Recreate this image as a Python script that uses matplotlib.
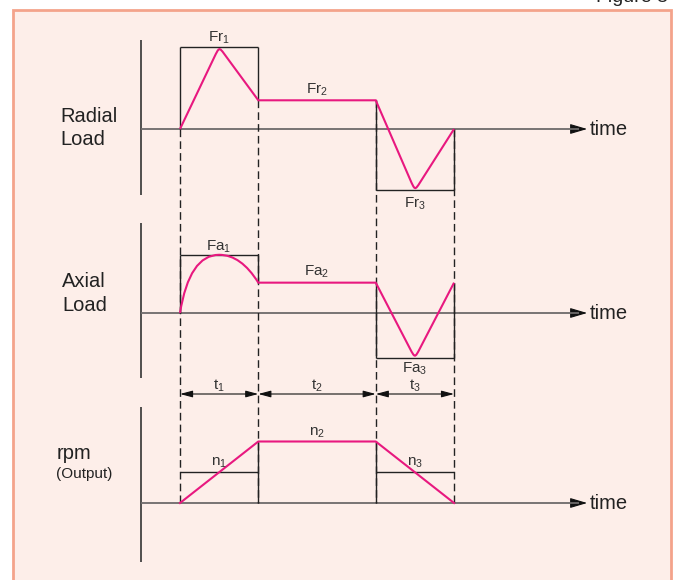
import matplotlib
matplotlib.use('Agg')
import matplotlib.pyplot as plt
import numpy as np
from matplotlib.path import Path
from matplotlib.patches import PathPatch, Rectangle, FancyArrowPatch

plt.rcParams['font.family'] = ['Liberation Sans', 'DejaVu Sans']
plt.rcParams['mathtext.fontset'] = 'custom'
plt.rcParams['mathtext.rm'] = 'Liberation Sans'
plt.rcParams['mathtext.it'] = 'Liberation Sans:italic'
plt.rcParams['mathtext.bf'] = 'Liberation Sans:bold'

# ---------------- data ----------------
durations = [1.0, 1.5, 1.0]                      # t1, t2, t3
period_labels = ['t$_1$', 't$_2$', 't$_3$']
radial_levels = [1.0, 0.35, -0.75]               # Fr1 (peak), Fr2, Fr3 (trough)
radial_labels = ['Fr$_1$', 'Fr$_2$', 'Fr$_3$']
axial_levels = [0.71, 0.37, -0.55]               # Fa1 (peak), Fa2, Fa3 (trough)
axial_end = 0.37
axial_labels = ['Fa$_1$', 'Fa$_2$', 'Fa$_3$']
rpm_levels = [0.375, 0.75, 0.375]                # n1 (mean), n2, n3 (mean)
rpm_labels = ['n$_1$', 'n$_2$', 'n$_3$']
row_names = [['Radial', 'Load'], ['Axial', 'Load'], ['rpm', '(Output)']]

# ---------------- layout ----------------
W, H = 676, 580
PX0, SX = 180.0, 78.3
PY0, SY = 129.0, 82.0
offsets = [0.0, -(313 - 129) / SY, -(503 - 129) / SY]
axis_spans = [(1.085, -0.805), (1.10, -0.79), (1.17, -0.72)]
AXIS_X = -0.5
TIME_END = 5.2
LBL = 11

MAG = '#e8187f'
DARK = '#222222'
GREY = '#6e6a6a'


def px(x, y):
    return (x - PX0) / SX, (PY0 - y) / SY


fig = plt.figure(figsize=(W / 100, H / 100), dpi=100)
fig.patch.set_facecolor('white')
ax = fig.add_axes([0, 0, 1, 1])
ax.set_axis_off()
ax.set_xlim(-PX0 / SX, (W - PX0) / SX)
ax.set_ylim((PY0 - H) / SY, PY0 / SY)

# frame
frame = Rectangle((12.5 / W, -0.1), (670.5 - 12.5) / W, 1.1 - 10.5 / H,
                  transform=fig.transFigure, facecolor='#fdeee9',
                  edgecolor='#f4a38b', lw=2.0, zorder=-1)
fig.patches.append(frame)
fig.text(668 / W, 1 - 1.5 / H, 'Figure 3', ha='right', va='baseline',
         fontsize=14, color='#222222')

bounds = np.concatenate([[0.0], np.cumsum(durations)])
mids = (bounds[:-1] + bounds[1:]) / 2


def rounded(pts, round_idx, f=0.13):
    verts, codes = [pts[0]], [Path.MOVETO]
    for i in range(1, len(pts)):
        if i in round_idx:
            V = np.array(pts[i], float)
            A = np.array(pts[i - 1], float)
            B = np.array(pts[i + 1], float)
            P0 = V + (A - V) * f
            P2 = V + (B - V) * f
            verts += [tuple(P0), tuple(V), tuple(V), tuple(P2)]
            codes += [Path.LINETO, Path.CURVE4, Path.CURVE4, Path.CURVE4]
        else:
            verts.append(pts[i])
            codes.append(Path.LINETO)
    return verts, codes


def shift(verts, off):
    return [(x, y + off) for x, y in verts]


def seg(x0, y0, x1, y1, **kw):
    ax.plot([x0, x1], [y0, y1], solid_capstyle='butt', **kw)


# axes lines and time arrows
for off, (top, bot) in zip(offsets, axis_spans):
    seg(AXIS_X, off + top, AXIS_X, off + bot, color='#333333', lw=1.2)
    seg(AXIS_X, off, TIME_END - 0.1, off, color=GREY, lw=1.3)
    ax.add_patch(FancyArrowPatch((TIME_END - 0.2, off), (TIME_END, off),
                                 arrowstyle='-|>,head_length=0.95,head_width=0.28',
                                 mutation_scale=11, color='#111111', lw=0.8,
                                 shrinkA=0, shrinkB=0))
    ax.text(TIME_END + 0.03, off - 6.5 / SY, 'time', ha='left', va='baseline',
            fontsize=14.5, color='#222222')

# dashed guides from radial series down to rpm baseline
Fr1, Fr2, Fr3 = radial_levels
radial_at_bounds = [0.0, Fr2, Fr2, 0.0]
for b, top in zip(bounds, radial_at_bounds):
    seg(b, top, b, offsets[2], color=DARK, lw=1.0, ls=(0, (5.5, 3)))

# ---- Radial panel ----
o = offsets[0]
seg(bounds[0], o, bounds[0], o + Fr1, color=DARK, lw=1.0)
seg(bounds[0], o + Fr1, bounds[1], o + Fr1, color=DARK, lw=1.0)
seg(bounds[1], o + Fr2, bounds[1], o + Fr1, color=DARK, lw=1.0)
seg(bounds[2], o + Fr2, bounds[2], o + Fr3, color=DARK, lw=1.0)
seg(bounds[2], o + Fr3, bounds[3], o + Fr3, color=DARK, lw=1.0)
seg(bounds[3], o, bounds[3], o + Fr3, color=DARK, lw=1.0)
pts = [(bounds[0], 0), (mids[0], Fr1), (bounds[1], Fr2), (bounds[2], Fr2),
       (mids[2], Fr3), (bounds[3], 0)]
v, c = rounded(pts, {1, 4})
ax.add_patch(PathPatch(Path(shift(v, o), c), fill=False, edgecolor=MAG, lw=1.5,
                       zorder=3))
ax.text(mids[0], o + Fr1 + 5.3 / SY, radial_labels[0], ha='center', va='baseline', fontsize=LBL, color='#333333')
ax.text(mids[1], o + Fr2 + 6.7 / SY, radial_labels[1], ha='center', va='baseline', fontsize=LBL, color='#333333')
ax.text(mids[2], o + Fr3 - 17.0 / SY, radial_labels[2], ha='center', va='baseline', fontsize=LBL, color='#333333')

# ---- Axial panel ----
o = offsets[1]
Fa1, Fa2, Fa3 = axial_levels
seg(bounds[0], o, bounds[0], o + Fa1, color=DARK, lw=1.0)
seg(bounds[0], o + Fa1, bounds[1], o + Fa1, color=DARK, lw=1.0)
seg(bounds[1], o + Fa2, bounds[1], o + Fa1, color=DARK, lw=1.0)
seg(bounds[2], o + Fa2, bounds[2], o + Fa3, color=DARK, lw=1.0)
seg(bounds[2], o + Fa3, bounds[3], o + Fa3, color=DARK, lw=1.0)
seg(bounds[3], o + axial_end, bounds[3], o + Fa3, color=DARK, lw=1.0)
d0 = durations[0]
verts = [(bounds[0], 0), (bounds[0] + 0.12 * d0, Fa1), (mids[0], Fa1),
         (mids[0] + 0.28 * d0, Fa1), (bounds[1], Fa2)]
codes = [Path.MOVETO, Path.CURVE3, Path.CURVE3, Path.CURVE3, Path.CURVE3]
v2, c2 = rounded([(bounds[1], Fa2), (bounds[2], Fa2), (mids[2], Fa3),
                  (bounds[3], axial_end)], {2})
verts += v2[1:]
codes += c2[1:]
ax.add_patch(PathPatch(Path(shift(verts, o), codes), fill=False, edgecolor=MAG,
                       lw=1.5, zorder=3))
ax.text(mids[0], o + Fa1 + 4.0 / SY, axial_labels[0], ha='center', va='baseline', fontsize=LBL, color='#333333')
ax.text(mids[1], o + Fa2 + 6.7 / SY, axial_labels[1], ha='center', va='baseline', fontsize=LBL, color='#333333')
ax.text(mids[2], o + Fa3 - 14.3 / SY, axial_labels[2], ha='center', va='baseline', fontsize=LBL, color='#333333')

# ---- rpm panel ----
o = offsets[2]
n1, n2, n3 = rpm_levels
seg(bounds[0], o + n1, bounds[1], o + n1, color=DARK, lw=1.0)
seg(bounds[1], o, bounds[1], o + n2, color=DARK, lw=1.0)
seg(bounds[2], o, bounds[2], o + n2, color=DARK, lw=1.0)
seg(bounds[2], o + n3, bounds[3], o + n3, color=DARK, lw=1.0)
ax.plot([bounds[0], bounds[1], bounds[2], bounds[3]],
        [o, o + n2, o + n2, o], color=MAG, lw=1.5, zorder=3)
ax.text(mids[0], o + n1 + 7.0 / SY, rpm_labels[0], ha='center', va='baseline', fontsize=LBL, color='#333333')
ax.text(mids[1], o + n2 + 5.6 / SY, rpm_labels[1], ha='center', va='baseline', fontsize=LBL, color='#333333')
ax.text(mids[2], o + n3 + 7.0 / SY, rpm_labels[2], ha='center', va='baseline', fontsize=LBL, color='#333333')

# period dimension arrows
ya = o + (503 - 394) / SY
for i in range(3):
    ax.add_patch(FancyArrowPatch((bounds[i], ya), (bounds[i + 1], ya),
                                 arrowstyle='<|-|>,head_length=0.75,head_width=0.2',
                                 mutation_scale=10, color='#111111', lw=0.8,
                                 shrinkA=0, shrinkB=0))
    ax.text(mids[i], o + (503 - 389.5) / SY, period_labels[i], ha='center',
            va='baseline', fontsize=LBL, color='#333333')

# row labels
label_pos = [[(60, 122), (60, 145)], [(62, 287), (62, 311)], [(57, 459), (56, 478)]]
label_size = [[14.5, 14.5], [14.5, 14.5], [14.5, 11]]
for names, poss, sizes in zip(row_names, label_pos, label_size):
    for name, (x, y), s in zip(names, poss, sizes):
        tx, ty = px(x, y)
        ax.text(tx, ty, name, ha='left', va='baseline', fontsize=s, color='#222222')

fig.savefig('out.png', dpi=100)
